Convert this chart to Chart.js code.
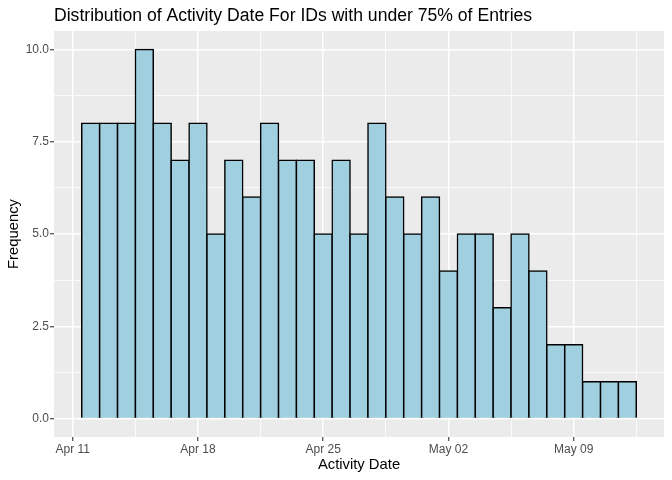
<!DOCTYPE html>
<html>
<head>
<meta charset="utf-8">
<script src="https://cdn.jsdelivr.net/npm/chart.js@4/dist/chart.umd.min.js"></script>
<style>
  body { margin: 0; background: #fff; }
  #wrap { width: 672px; height: 480px; }
</style>
</head>
<body>
<div id="wrap"><canvas id="hist" width="672" height="480"></canvas></div>
<script>
const binDates = ['2016-04-12','2016-04-13','2016-04-14','2016-04-15','2016-04-16','2016-04-17','2016-04-18',
  '2016-04-19','2016-04-20','2016-04-21','2016-04-22','2016-04-23','2016-04-24','2016-04-25','2016-04-26',
  '2016-04-27','2016-04-28','2016-04-29','2016-04-30','2016-05-01','2016-05-02','2016-05-03','2016-05-04',
  '2016-05-05','2016-05-06','2016-05-07','2016-05-08','2016-05-09','2016-05-10','2016-05-11','2016-05-12'];
const counts = [8, 8, 8, 10, 8, 7, 8, 5, 7, 6, 8, 7, 7, 5, 7, 5, 8, 6, 5, 6, 4, 5, 5, 3, 5, 4, 2, 2, 1, 1, 1];
const tickDates = ['2016-04-11','2016-04-18','2016-04-25','2016-05-02','2016-05-09'];
const tickLabels = ['Apr 11', 'Apr 18', 'Apr 25', 'May 02', 'May 09'];
const yTicks = [0, 2.5, 5, 7.5, 10];

// days since Apr 11
const origin = Date.parse('2016-04-11');
const dayOf = d => (Date.parse(d) - origin) / 86400000;

const points = binDates.map((d, i) => ({x: dayOf(d), y: counts[i]}));
const xMajor = tickDates.map(dayOf);
const xMinor = xMajor.map(v => v + 3.5);
const yMinor = yTicks.slice(0, -1).map(v => v + 1.25);

// ggplot-like range: 5% expansion around the bins
const xLo = points[0].x - 0.5, xHi = points[points.length - 1].x + 0.5;
const xPad = (xHi - xLo) * 0.05;
const yPad = Math.max(...counts) * 0.05;

const FONT = '"Liberation Sans", Arial, sans-serif';

const panelBg = {
  id: 'panelBg',
  beforeDraw(chart) {
    const {ctx, chartArea: a} = chart;
    ctx.save();
    ctx.fillStyle = '#fff';
    ctx.fillRect(0, 0, chart.width, chart.height);
    ctx.fillStyle = '#EBEBEB';
    ctx.fillRect(a.left, a.top, a.right - a.left, a.bottom - a.top);
    ctx.restore();
  }
};

const plotTitle = {
  id: 'plotTitle',
  afterDraw(chart) {
    const {ctx, chartArea: a} = chart;
    ctx.save();
    ctx.font = '17.6px ' + FONT;
    ctx.fillStyle = '#000';
    ctx.textBaseline = 'alphabetic';
    ctx.fillText('Distribution of Activity Date For IDs with under 75% of Entries', a.left, 21);
    ctx.restore();
  }
};

const mkTicks = (major, minor) =>
  major.map(v => ({value: v, major: true})).concat(minor.map(v => ({value: v, major: false})))
    .sort((a, b) => a.value - b.value);

const gridOpts = {
  offset: false,
  color: '#FFFFFF',
  lineWidth: c => (c.tick && c.tick.major) ? 1.5 : 0.75,
  tickColor: c => (c.tick && c.tick.major) ? '#333333' : 'rgba(0,0,0,0)',
  tickWidth: 1.1,
  tickLength: 4
};

new Chart(document.getElementById('hist'), {
  type: 'bar',
  data: {
    datasets: [{
      data: points,
      backgroundColor: 'rgb(160,207,224)',
      borderColor: '#000000',
      borderWidth: 1.5,
      inflateAmount: 0.75,
      categoryPercentage: 1,
      barPercentage: 1
    }]
  },
  plugins: [panelBg, plotTitle],
  options: {
    responsive: false,
    animation: false,
    layout: { padding: { top: 31, right: 8, left: 0, bottom: 0 } },
    plugins: { legend: { display: false }, tooltip: { enabled: false } },
    scales: {
      x: {
        type: 'linear',
        offset: false,
        min: xLo - xPad,
        max: xHi + xPad,
        afterBuildTicks: s => { s.ticks = mkTicks(xMajor, xMinor); },
        afterFit: s => { s.height = 43; },
        grid: gridOpts,
        border: { display: false },
        ticks: {
          autoSkip: false,
          maxRotation: 0,
          padding: 1,
          color: '#4D4D4D',
          font: { family: FONT, size: 12 },
          callback: v => { const i = xMajor.indexOf(v); return i >= 0 ? tickLabels[i] : ''; }
        },
        title: {
          display: true,
          text: 'Activity Date',
          color: '#000',
          font: { family: FONT, size: 14.8 },
          padding: { top: 0, bottom: 6 }
        }
      },
      y: {
        min: -yPad,
        max: Math.max(...counts) + yPad,
        afterBuildTicks: s => { s.ticks = mkTicks(yTicks, yMinor); },
        afterFit: s => { s.width = 54; },
        grid: gridOpts,
        border: { display: false },
        ticks: {
          padding: 1,
          color: '#4D4D4D',
          font: { family: FONT, size: 12 },
          callback: v => yTicks.includes(v) ? v.toFixed(1) : ''
        },
        title: {
          display: true,
          text: 'Frequency',
          color: '#000',
          font: { family: FONT, size: 14.8 },
          padding: { top: 5, bottom: 0 }
        }
      }
    }
  }
});
</script>
</body>
</html>
